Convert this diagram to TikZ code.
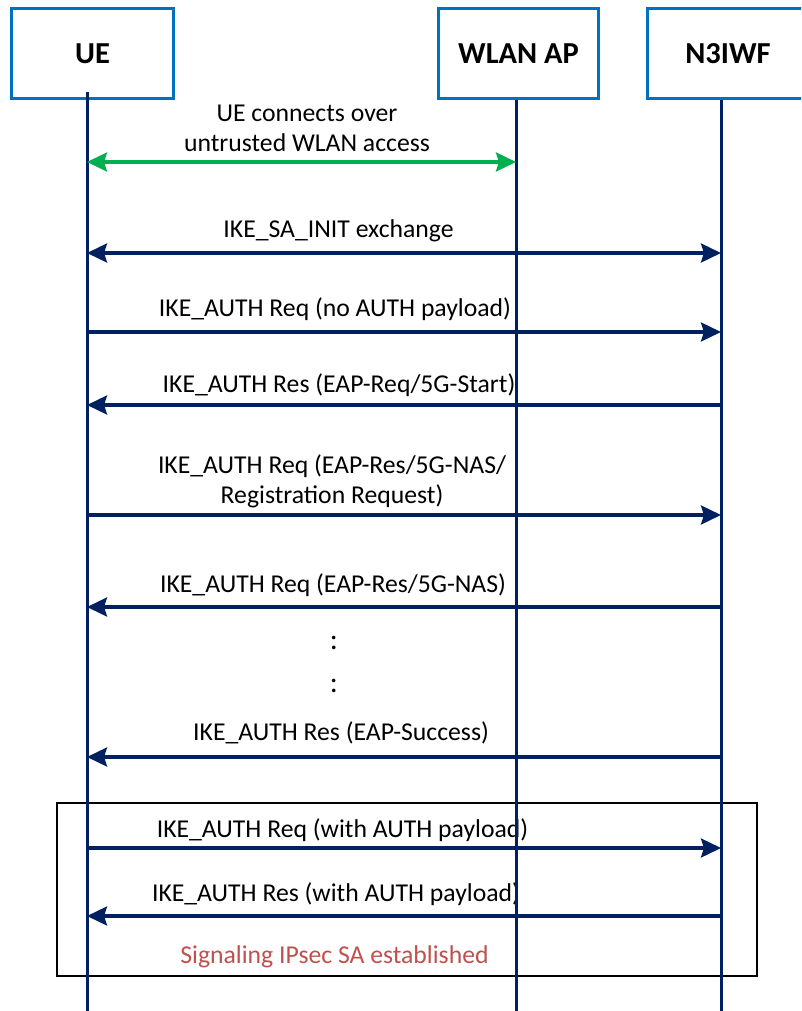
\documentclass[tikz,border=0pt]{standalone}
\usepackage{fontspec}
\setmainfont{Carlito}
\usetikzlibrary{arrows.meta}
\definecolor{boxblue}{RGB}{0,112,192}
\definecolor{navy}{RGB}{0,32,96}
\definecolor{wlangreen}{RGB}{0,176,80}
\definecolor{notered}{RGB}{192,80,77}

\begin{document}
\begin{tikzpicture}[
  x=1pt, y=-1pt,
  entity/.style={rectangle, draw=boxblue, line width=3.5pt, minimum height=90pt,
    font=\fontsize{30.5}{36}\selectfont\bfseries},
  life/.style={navy, line width=3pt},
  msg/.style={navy, line width=3.2pt, -{Stealth[length=20pt,width=19pt,inset=3pt]}},
  msgboth/.style={navy, line width=3.2pt,
    {Stealth[length=20pt,width=19pt,inset=3pt]}-{Stealth[length=20pt,width=19pt,inset=3pt]}},
  lbl/.style={anchor=base, align=center, font=\fontsize{25.7}{30}\selectfont},
]
\clip (0,0) rectangle (801,1011);

% Group box
\coordinate (grpNW) at (57,803);
\coordinate (grpSE) at (757,976);
\draw[line width=2.2pt] (grpNW) rectangle (grpSE);

% Entities
\node[entity, minimum width=162pt] (ue) at (92.5,53.5) {UE};
\node[entity, minimum width=160pt] (ap) at (518.5,53.5) {WLAN AP};
\node[entity, minimum width=161pt] (n3iwf) at (728,53.5) {N3IWF};

% Labels (base = last line)
\node[lbl] (l1) at (307,152) {UE connects over\\untrusted WLAN access};
\node[lbl] (l2) at (338.5,237) {IKE\_SA\_INIT exchange};
\node[lbl] (l3) at (335,316) {IKE\_AUTH Req (no AUTH payload)};
\node[lbl] (l4) at (339,392) {IKE\_AUTH Res (EAP-Req/5G-Start)};
\node[lbl] (l5) at (332,503) {IKE\_AUTH Req (EAP-Res/5G-NAS/\\Registration Request)};
\node[lbl] (l6) at (333,592) {IKE\_AUTH Req (EAP-Res/5G-NAS)};
\node[lbl, font=\fontsize{30}{36}\selectfont] (dots1) at (334,649) {:};
\node[lbl, font=\fontsize{30}{36}\selectfont] (dots2) at (334,692) {:};
\node[lbl] (l7) at (341,740) {IKE\_AUTH Res (EAP-Success)};
\node[lbl] (l8) at (342.5,837) {IKE\_AUTH Req (with AUTH payload)};
\node[lbl] (l9) at (336,901) {IKE\_AUTH Res (with AUTH payload)};
\node[lbl, text=notered] (sa) at (334.5,963) {Signaling IPsec SA established};

% Lifelines
\coordinate (ueL) at (87,92);
\coordinate (apL) at (516,100);
\coordinate (nwL) at (721,100);
\coordinate (ueB) at (87,1011);
\coordinate (apB) at (516,1011);
\coordinate (nwB) at (721,1011);
\draw[life] (ueL) -- (ueB);
\draw[life] (apL) -- (apB);
\draw[life] (nwL) -- (nwB);

% Messages
\draw[msgboth, wlangreen] (ueL |- 0,162) -- (apL |- 0,162);
\draw[msgboth] (ueL |- 0,253) -- (nwL |- 0,253);
\draw[msg] (ueL |- 0,332) -- (nwL |- 0,332);
\draw[msg] (nwL |- 0,405) -- (ueL |- 0,405);
\draw[msg] (ueL |- 0,515) -- (nwL |- 0,515);
\draw[msg] (nwL |- 0,607) -- (ueL |- 0,607);
\draw[msg] (nwL |- 0,757) -- (ueL |- 0,757);
\draw[msg] (ueL |- 0,848) -- (nwL |- 0,848);
\draw[msg] (nwL |- 0,916) -- (ueL |- 0,916);

\end{tikzpicture}
\end{document}
